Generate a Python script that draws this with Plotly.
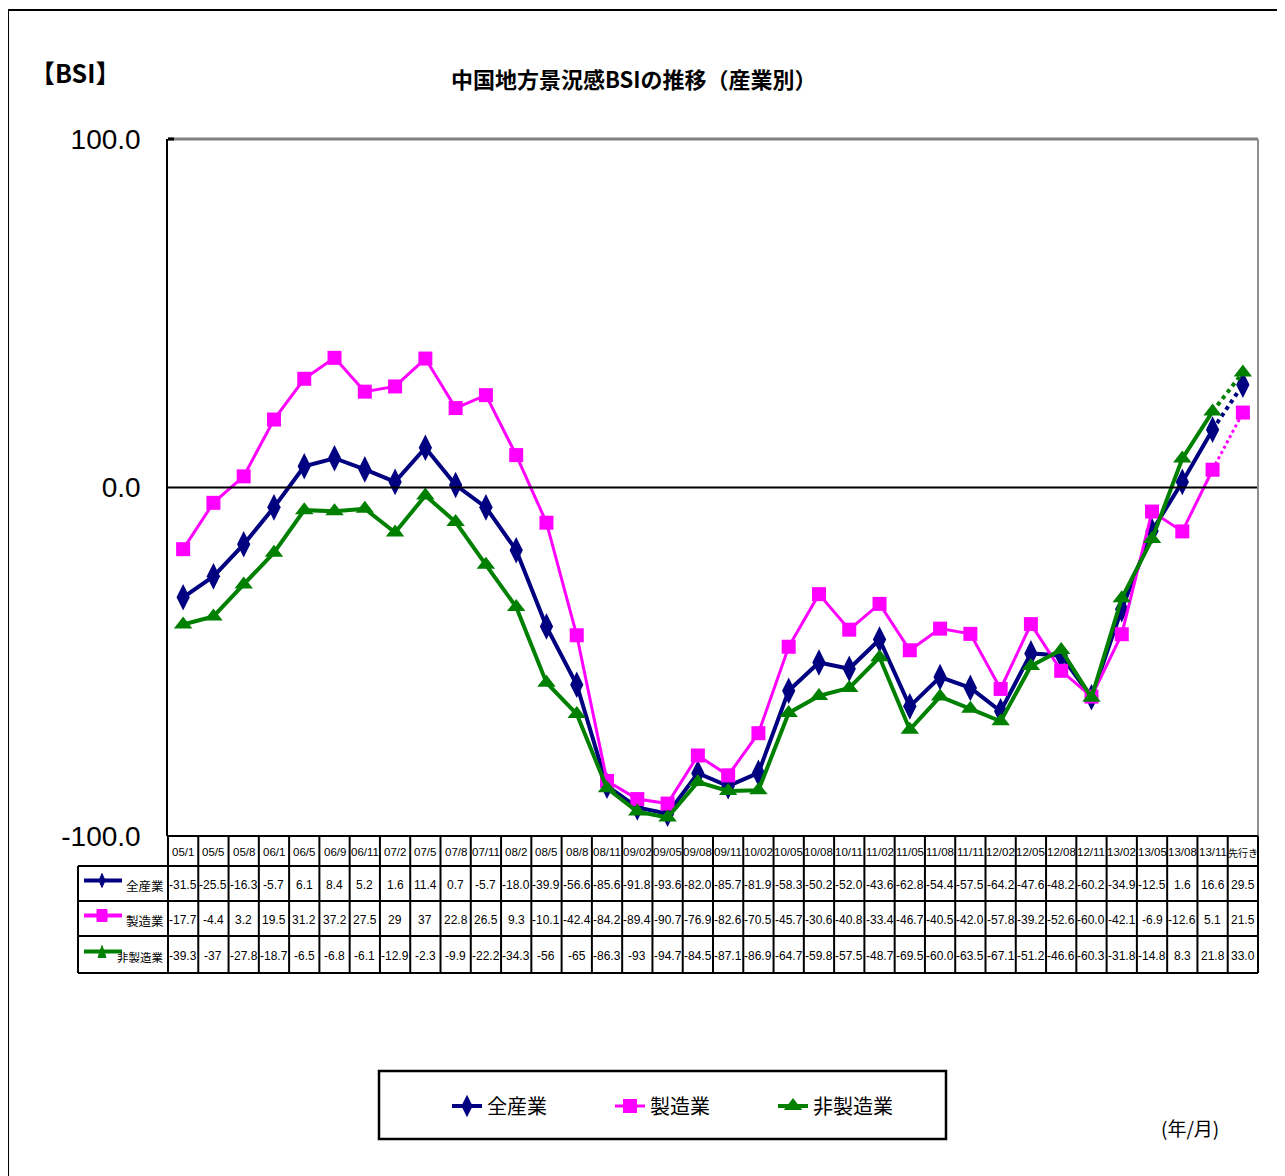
import plotly.graph_objects as go

categories = ["05/1","05/5","05/8","06/1","06/5","06/9","06/11","07/2","07/5","07/8","07/11",
              "08/2","08/5","08/8","08/11","09/02","09/05","09/08","09/11","10/02","10/05","10/08","10/11",
              "11/02","11/05","11/08","11/11","12/02","12/05","12/08","12/11","13/02","13/05","13/08","13/11","先行き"]

all_ind = [-31.5, -25.5, -16.3, -5.7, 6.1, 8.4, 5.2, 1.6, 11.4, 0.7, -5.7,
           -18.0, -39.9, -56.6, -85.6, -91.8, -93.6, -82.0, -85.7, -81.9, -58.3, -50.2, -52.0,
           -43.6, -62.8, -54.4, -57.5, -64.2, -47.6, -48.2, -60.2, -34.9, -12.5, 1.6, 16.6, 29.5]
manuf = [-17.7, -4.4, 3.2, 19.5, 31.2, 37.2, 27.5, 29, 37, 22.8, 26.5,
         9.3, -10.1, -42.4, -84.2, -89.4, -90.7, -76.9, -82.6, -70.5, -45.7, -30.6, -40.8,
         -33.4, -46.7, -40.5, -42.0, -57.8, -39.2, -52.6, -60.0, -42.1, -6.9, -12.6, 5.1, 21.5]
nonmanuf = [-39.3, -37, -27.8, -18.7, -6.5, -6.8, -6.1, -12.9, -2.3, -9.9, -22.2,
            -34.3, -56, -65, -86.3, -93, -94.7, -84.5, -87.1, -86.9, -64.7, -59.8, -57.5,
            -48.7, -69.5, -60.0, -63.5, -67.1, -51.2, -46.6, -60.3, -31.8, -14.8, 8.3, 21.8, 33.0]

series_names = ["全産業", "製造業", "非製造業"]
series_values = [all_ind, manuf, nonmanuf]
series_colors = ["#000080", "#FF00FF", "#008000"]
series_symbols = ["diamond-tall", "square", "triangle-up"]
series_msize = [19, 14, 16]
series_lw = [4, 3, 4]

ytick_vals = [-100, 0, 100]
ytick_text = ["-100.0", "0.0", "100.0"]

OFF = 8  # default page body margin
W, H = 1285 - OFF, 1176 - OFF
L, R, T, B = 168, 1258, 139, 836  # plot area, in page pixels

NUM = "Liberation Sans, Arial, sans-serif"
CJK = "Noto Sans CJK JP"

def px(x):
    return (x - L) / (R - L)

def py(y):
    return (B - y) / (B - T)

fig = go.Figure()
n = len(categories)
for name, vals, col, sym, ms, lw in zip(series_names, series_values, series_colors,
                                         series_symbols, series_msize, series_lw):
    fig.add_trace(go.Scatter(x=categories[:n-1], y=vals[:n-1], mode="lines+markers", name=name,
                             line=dict(color=col, width=lw),
                             marker=dict(symbol=sym, size=ms, color=col),
                             legendgroup=name))
    fig.add_trace(go.Scatter(x=categories[n-2:], y=vals[n-2:], mode="lines", showlegend=False,
                             line=dict(color=col, width=lw, dash="dot"), legendgroup=name,
                             hoverinfo="skip"))
    fig.add_trace(go.Scatter(x=categories[n-1:], y=vals[n-1:], mode="markers", showlegend=False,
                             marker=dict(symbol=sym, size=ms, color=col), legendgroup=name))

shapes = []
ann = []

def text(x, y, s, size, family=CJK, xanchor="center", xref="paper"):
    ann.append(dict(x=x, xref=xref, y=y, yref="paper", text=s, showarrow=False,
                    xanchor=xanchor, yanchor="middle",
                    font=dict(family=family, size=size, color="black")))

# whole-figure frame
shapes.append(dict(type="rect", xref="paper", yref="paper", x0=px(8), x1=px(1300), y0=py(1200), y1=py(10),
                   line=dict(color="black", width=2), layer="below"))
# zero line
shapes.append(dict(type="line", xref="paper", yref="y", x0=0, x1=1, y0=0, y1=0,
                   line=dict(color="black", width=2)))
# plot top & right border (gray)
shapes.append(dict(type="line", xref="paper", yref="paper", x0=0, x1=1, y0=1, y1=1,
                   line=dict(color="#808080", width=3)))
shapes.append(dict(type="line", xref="paper", yref="paper", x0=1, x1=1, y0=0, y1=1,
                   line=dict(color="#909090", width=2)))
shapes.append(dict(type="line", xref="paper", yref="paper", x0=0, x1=px(174), y0=1, y1=1,
                   line=dict(color="black", width=3)))

# table
row_edges = [836, 866, 901, 936, 973]
tw = 2
shapes.append(dict(type="line", xref="paper", yref="paper", x0=0, x1=1, y0=py(836), y1=py(836),
                   line=dict(color="black", width=tw)))
for ry in row_edges[1:]:
    shapes.append(dict(type="line", xref="paper", yref="paper", x0=px(78), x1=1, y0=py(ry), y1=py(ry),
                       line=dict(color="black", width=tw)))
shapes.append(dict(type="line", xref="paper", yref="paper", x0=px(78), x1=px(78), y0=py(866), y1=py(973),
                   line=dict(color="black", width=tw)))
for k in range(n + 1):
    shapes.append(dict(type="line", xref="paper", yref="paper", x0=k / n, x1=k / n, y0=py(836), y1=py(973),
                       line=dict(color="black", width=tw)))

hdr_y = (836 + 866) / 2 + 1
for c in categories:
    if c == "先行き":
        text(c, py(hdr_y), c, 10, CJK, xref="x")
    else:
        text(c, py(hdr_y), c, 11.5, NUM, xref="x")

label_sizes = [12.5, 12.5, 11.5]
for r, (name, vals, col, sym) in enumerate(zip(series_names, series_values, series_colors, series_symbols)):
    yc = (row_edges[r + 1] + row_edges[r + 2]) / 2
    for c, v in zip(categories, vals):
        text(c, py(yc + 1), str(v), 12, NUM, xref="x")
    # key sample
    shapes.append(dict(type="line", xref="paper", yref="paper", x0=px(84), x1=px(122), y0=py(yc - 3), y1=py(yc - 3),
                       line=dict(color=col, width=4)))
    mx, my = 102, yc - 3
    if r == 0:
        path = f"M{px(mx)},{py(my-7)} L{px(mx+3)},{py(my)} L{px(mx)},{py(my+7)} L{px(mx-3)},{py(my)} Z"
    elif r == 1:
        path = f"M{px(mx-5)},{py(my-6)} L{px(mx+5)},{py(my-6)} L{px(mx+5)},{py(my+6)} L{px(mx-5)},{py(my+6)} Z"
    else:
        path = f"M{px(mx)},{py(my-6)} L{px(mx+4)},{py(my+6)} L{px(mx-4)},{py(my+6)} Z"
    shapes.append(dict(type="path", xref="paper", yref="paper", path=path, fillcolor=col,
                       line=dict(color=col, width=1)))
    text(px(166), py(yc + 2), name, label_sizes[r], CJK, xanchor="right")

# legend box
shapes.append(dict(type="rect", xref="paper", yref="paper", x0=px(379), x1=px(946), y0=py(1139), y1=py(1071),
                   line=dict(color="black", width=2.5)))

text(px(634), py(78), "<b>中国地方景況感BSIの推移（産業別）</b>", 22)
text(px(28), py(72), "<b>【BSI】</b>", 25, xanchor="left")
text(px(1190), py(1127), "(年/月)", 19)

fig.update_layout(
    width=W, height=H,
    margin=dict(l=L - OFF, r=1285 - R, t=T - OFF, b=1176 - B, pad=0),
    paper_bgcolor="white", plot_bgcolor="white",
    shapes=shapes, annotations=ann,
    showlegend=True,
    legend=dict(orientation="h", x=px(447), xanchor="left", y=py(1106), yanchor="middle",
                font=dict(family=CJK, size=20, color="black"),
                entrywidth=118, entrywidthmode="pixels", bgcolor="rgba(0,0,0,0)",
                itemclick=False, itemdoubleclick=False),
    xaxis=dict(type="category", categoryorder="array", categoryarray=categories,
               range=[-0.5, n - 0.5], showticklabels=False, showgrid=False, zeroline=False,
               showline=False, ticks=""),
    yaxis=dict(range=[-100, 100], tickvals=ytick_vals, ticktext=ytick_text, showgrid=False,
               zeroline=False, showline=True, linecolor="black", linewidth=1.5,
               ticks="", ticklabelstandoff=20,
               tickfont=dict(family=NUM, size=28, color="black")),
)

fig.write_html("out.html")
